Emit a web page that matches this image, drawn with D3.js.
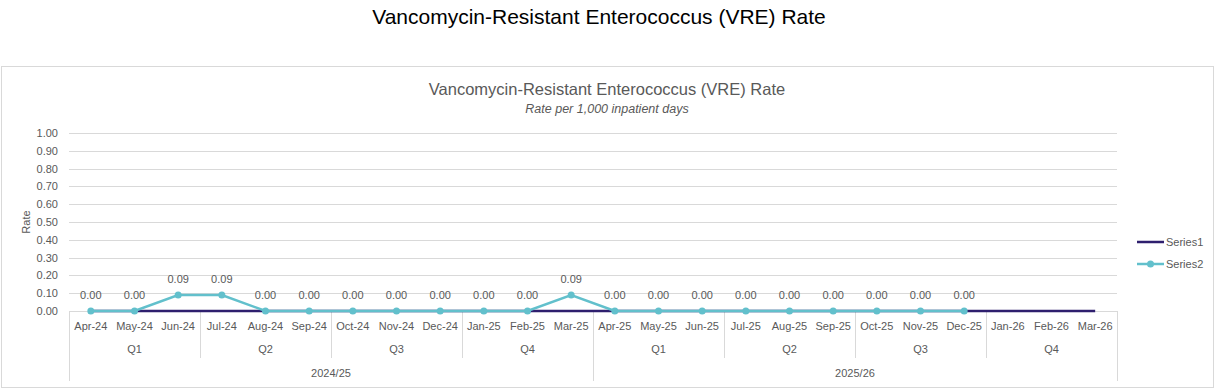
<!DOCTYPE html>
<head>
  <meta charset="utf-8">
  <script src="https://d3js.org/d3.v7.min.js"></script>
  <style>
    body { margin:0; background:#fff; }
    text { font-family: "Liberation Sans", Arial, sans-serif; fill:#595959; }
    .page-title { fill:#000; font-size:21px; }
    .grid line { stroke:#d9d9d9; }
    .tick-label { font-size:11px; }
  </style>
</head>
<body>
  <div class="chart"></div>
  <script>
    const months = ['Apr-24','May-24','Jun-24','Jul-24','Aug-24','Sep-24','Oct-24','Nov-24','Dec-24','Jan-25','Feb-25','Mar-25',
                    'Apr-25','May-25','Jun-25','Jul-25','Aug-25','Sep-25','Oct-25','Nov-25','Dec-25','Jan-26','Feb-26','Mar-26'];
    const quarters = ['Q1','Q2','Q3','Q4','Q1','Q2','Q3','Q4'];
    const years = ['2024/25','2025/26'];
    const series1 = [0,0,0,0,0,0,0,0,0,0,0,0,0,0,0,0,0,0,0,0,0,0,0,0];
    const series2 = [0,0,0.09,0.09,0,0,0,0,0,0,0,0.09,0,0,0,0,0,0,0,0,0];
    const yTicks = [0,0.1,0.2,0.3,0.4,0.5,0.6,0.7,0.8,0.9,1.0];

    const W = 1215, H = 390;
    const plot = { left: 69, right: 1117, top: 133, bottom: 311 };

    const svg = d3.select('.chart').append('svg')
      .attr('width', W).attr('height', H);

    svg.append('text').attr('class', 'page-title')
      .attr('x', 599).attr('y', 24).attr('text-anchor', 'middle')
      .text('Vancomycin-Resistant Enterococcus (VRE) Rate');

    // chart frame
    svg.append('rect')
      .attr('x', 1.5).attr('y', 66.5).attr('width', 1212).attr('height', 321)
      .attr('fill', '#fff').attr('stroke', '#d9d9d9');

    svg.append('text')
      .attr('x', 607).attr('y', 95).attr('text-anchor', 'middle')
      .style('font-size', '16.5px')
      .text('Vancomycin-Resistant Enterococcus (VRE) Rate');
    svg.append('text')
      .attr('x', 607).attr('y', 113).attr('text-anchor', 'middle')
      .style('font-size', '12.5px').style('font-style', 'italic')
      .text('Rate per 1,000 inpatient days');

    const x = d3.scaleBand().domain(months).range([plot.left, plot.right]);
    const y = d3.scaleLinear().domain([0, 1]).range([plot.bottom, plot.top]);

    // gridlines
    svg.append('g').attr('class', 'grid')
      .selectAll('line').data(yTicks.slice(1)).enter().append('line')
      .attr('x1', plot.left).attr('x2', plot.right)
      .attr('y1', d => Math.round(y(d)) + 0.5).attr('y2', d => Math.round(y(d)) + 0.5);

    // y axis labels
    const yAxis = d3.axisLeft(y).tickValues(yTicks).tickFormat(d3.format('.2f')).tickSize(0).tickPadding(11);
    const yg = svg.append('g').attr('transform', `translate(${plot.left},0)`).call(yAxis);
    yg.select('.domain').remove();
    yg.selectAll('text').attr('class', 'tick-label').style('font-family', null).attr('fill', null);

    svg.append('text')
      .attr('transform', `translate(30,${(plot.top + plot.bottom) / 2}) rotate(-90)`)
      .attr('text-anchor', 'middle').style('font-size', '11px')
      .text('Rate');

    // multi-level category axis
    const ax = svg.append('g').attr('class', 'grid');
    ax.append('line').attr('x1', plot.left).attr('x2', plot.right)
      .attr('y1', plot.bottom + 0.5).attr('y2', plot.bottom + 0.5);
    const step = x.step();
    d3.range(0, 25, 3).forEach(i => {
      const xx = Math.round(plot.left + i * step) + 0.5;
      const full = i % 12 === 0;
      ax.append('line').attr('x1', xx).attr('x2', xx)
        .attr('y1', plot.bottom).attr('y2', full ? 381 : 358);
    });

    svg.append('g').selectAll('text').data(months).enter().append('text')
      .attr('class', 'tick-label').attr('text-anchor', 'middle')
      .attr('x', d => x(d) + x.bandwidth() / 2).attr('y', 330)
      .text(d => d);
    svg.append('g').selectAll('text').data(quarters).enter().append('text')
      .attr('class', 'tick-label').attr('text-anchor', 'middle')
      .attr('x', (d, i) => plot.left + (i * 3 + 1.5) * step).attr('y', 353)
      .text(d => d);
    svg.append('g').selectAll('text').data(years).enter().append('text')
      .attr('class', 'tick-label').attr('text-anchor', 'middle')
      .attr('x', (d, i) => plot.left + (i * 12 + 6) * step).attr('y', 377)
      .text(d => d);

    const cx = i => x(months[i]) + x.bandwidth() / 2;
    const line = d3.line().x((d, i) => cx(i)).y(d => y(d));

    svg.append('path').datum(series1)
      .attr('fill', 'none').attr('stroke', '#2e1f6e').attr('stroke-width', 2.5)
      .attr('d', line);
    svg.append('path').datum(series2)
      .attr('fill', 'none').attr('stroke', '#62c0cc').attr('stroke-width', 2.5)
      .attr('d', line);
    svg.append('g').selectAll('circle').data(series2).enter().append('circle')
      .attr('cx', (d, i) => cx(i)).attr('cy', d => y(d)).attr('r', 3.5)
      .attr('fill', '#62c0cc');
    svg.append('g').selectAll('text').data(series2).enter().append('text')
      .attr('class', 'tick-label').attr('text-anchor', 'middle')
      .attr('x', (d, i) => cx(i)).attr('y', d => y(d) - 12)
      .text(d => d.toFixed(2));

    // legend
    const legend = [{ name: 'Series1', color: '#2e1f6e', marker: false },
                    { name: 'Series2', color: '#62c0cc', marker: true }];
    const lg = svg.append('g').selectAll('g').data(legend).enter().append('g')
      .attr('transform', (d, i) => `translate(1137,${242 + i * 22})`);
    lg.append('line').attr('x1', 0).attr('x2', 27)
      .attr('stroke', d => d.color).attr('stroke-width', 2.5);
    lg.filter(d => d.marker).append('circle').attr('cx', 13.5).attr('r', 3.5).attr('fill', d => d.color);
    lg.append('text').attr('class', 'tick-label').attr('x', 29).attr('y', 4).text(d => d.name);
  </script>
</body>
